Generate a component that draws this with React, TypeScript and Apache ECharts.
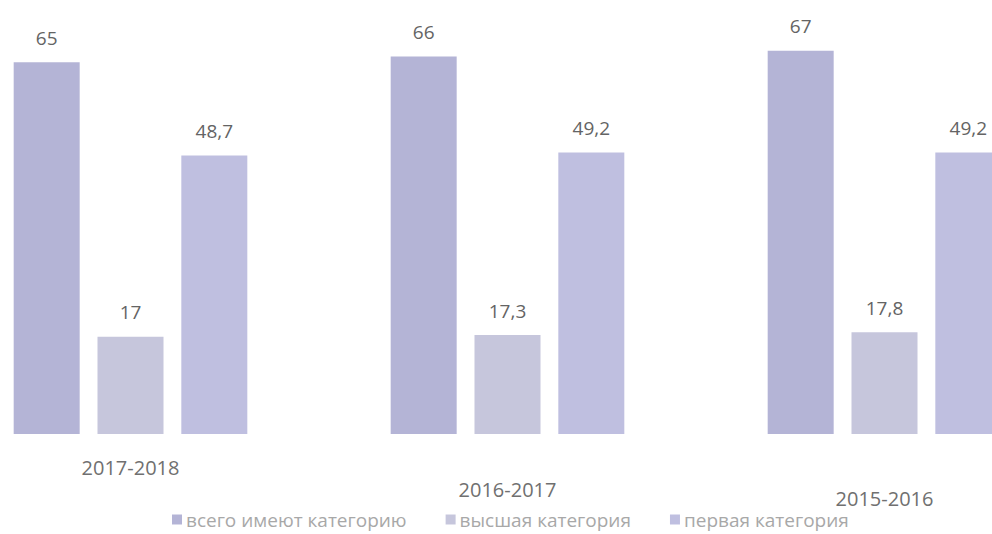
import React, { useEffect, useRef } from "react";
import * as echarts from "echarts";

const categories = ["2017-2018", "2016-2017", "2015-2016"];
const categoryLabelPad = [0, 22, 31];
const seriesNames = ["всего имеют категорию", "высшая категория", "первая категория"];
const totalValues = [65, 66, 67];
const highestValues = [17, 17.3, 17.8];
const firstValues = [48.7, 49.2, 49.2];
const colors = ["#b4b4d6", "#c6c6dc", "#bfbfe0"];

const fmt = (v: number) => String(v).replace(".", ",");

export default function App() {
  const ref = useRef<HTMLDivElement>(null);
  useEffect(() => {
    if (!ref.current) return;
    const chart = echarts.init(ref.current, undefined, { renderer: "svg" });
    const seriesData = [totalValues, highestValues, firstValues];
    chart.setOption({
      animation: false,
      backgroundColor: "#ffffff",
      color: colors,
      grid: { left: 0, right: 0, top: 5, bottom: 100 },
      legend: {
        left: 225,
        top: 505,
        itemWidth: 10,
        itemHeight: 10,
        itemGap: 39,
        icon: "rect",
        textStyle: { color: "#a8a8a8", fontSize: 19, fontFamily: "Open Sans", padding: [0, 0, 0, -1] },
        data: seriesNames,
      },
      xAxis: {
        type: "category",
        data: categories.map((c, i) => ({
          value: c,
          textStyle: { padding: [categoryLabelPad[i], 0, 0, 0] },
        })),
        axisLine: { show: false },
        axisTick: { show: false },
        axisLabel: {
          color: "#707070",
          fontSize: 20,
          fontFamily: "Open Sans",
          margin: 23,
        },
      },
      yAxis: {
        type: "value",
        min: 0,
        max: 75,
        show: false,
        splitLine: { show: false },
      },
      series: seriesNames.map((name, i) => ({
        name,
        type: "bar",
        data: seriesData[i],
        barWidth: 66,
        barGap: "27%",
        label: {
          show: true,
          position: "top",
          distance: 15,
          color: "#646464",
          fontSize: 19,
          fontFamily: "Open Sans",
          formatter: (p: any) => fmt(p.value),
        },
      })),
    });
    return () => chart.dispose();
  }, []);
  return (
    <div
      style={{
        position: "fixed",
        left: 0,
        top: 0,
        width: 992,
        height: 534,
        overflow: "hidden",
        background: "#fff",
      }}
    >
      <div
        ref={ref}
        style={{ position: "absolute", left: -58, top: 0, width: 1131, height: 534 }}
      />
    </div>
  );
}
